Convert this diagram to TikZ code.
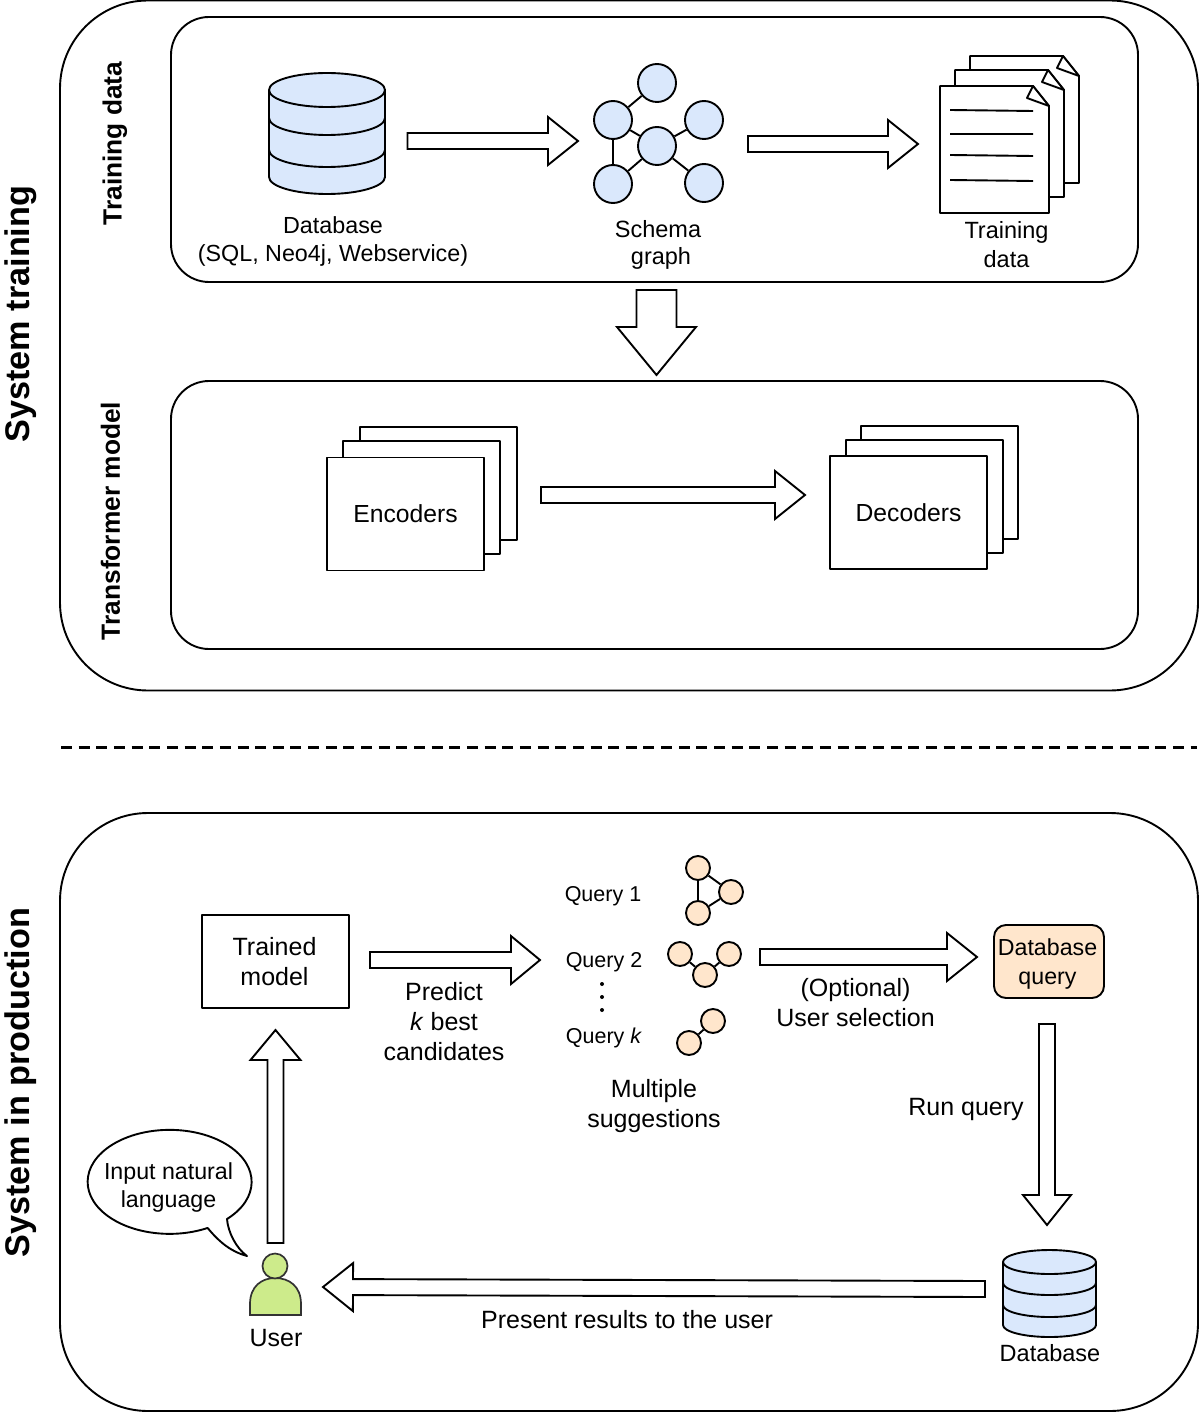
\documentclass[tikz,border=0pt]{standalone}
\usepackage{fontspec}
\setmainfont{Liberation Sans}
\usetikzlibrary{calc}
\definecolor{dbblue}{HTML}{DAE8FC}
\definecolor{qorange}{HTML}{FFE6CC}
\definecolor{ugreen}{HTML}{CDEB8B}
\tikzset{
  x=1pt,y=-1pt,
  line/.style={draw=black,line width=1.9pt,line join=round},
  flow/.style={draw=black,line width=1.9pt,fill=white,line join=miter},
  lbl/.style={inner sep=0pt,align=center,font=\fontsize{23.5}{28.5}\selectfont},
  lbla/.style={inner sep=0pt,align=center,font=\fontsize{23.3}{28.5}\selectfont},
  lblb/.style={inner sep=0pt,align=center,font=\fontsize{25}{30}\selectfont},
  lblc/.style={inner sep=0pt,align=center,font=\fontsize{23.2}{28.5}\selectfont},
  qlbl/.style={inner sep=0pt,font=\fontsize{21.5}{25}\selectfont},
  sec/.style={inner sep=0pt,rotate=90,font=\fontsize{34.2}{40}\selectfont\bfseries},
  sub/.style={inner sep=0pt,rotate=90,font=\fontsize{26.3}{31}\selectfont\bfseries},
  outerbox/.style={line,rounded corners=88pt,inner sep=0pt},
  innerbox/.style={line,rounded corners=38pt,inner sep=0pt},
  sheet/.style={line,fill=white,inner sep=0pt,minimum width=157pt,minimum height=113pt,
     font=\fontsize{24.7}{29}\selectfont},
  gnode/.style={circle,line,fill=dbblue,inner sep=0pt,minimum size=38pt},
  qnode/.style={circle,line,fill=qorange,inner sep=0pt,minimum size=24pt},
}
% from, to, shaft half width, head half width, head length
\newcommand\blockarrow[5]{%
  \draw[flow] ($(#1)!#3!90:(#2)$)
    -- ($(#2)!#5!(#1)!#3!-90:(#1)$)
    -- ($(#2)!#5!(#1)!#4!-90:(#1)$)
    -- (#2)
    -- ($(#2)!#5!(#1)!#4!90:(#1)$)
    -- ($(#2)!#5!(#1)!#3!90:(#1)$)
    -- ($(#1)!#3!-90:(#2)$) -- cycle;}
% cylinder: x-left, x-right, top y of lid, bottom y, y of band 1, y of band 2, ry
\newcommand\dbstack[7]{%
  \pgfmathsetmacro\rxx{(#2-#1)/2}
  \pgfmathsetmacro\ymid{#3+#7}
  \pgfmathsetmacro\ylow{#4-#7}
  \draw[line,fill=dbblue] (#1,\ymid) arc[start angle=180,end angle=0,x radius=\rxx pt,y radius=#7 pt]
     -- (#2,\ylow) arc[start angle=0,end angle=-180,x radius=\rxx pt,y radius=#7 pt] -- cycle;
  \draw[line] (#1,\ymid) arc[start angle=180,end angle=360,x radius=\rxx pt,y radius=#7 pt];
  \draw[line] (#1,#5) arc[start angle=180,end angle=360,x radius=\rxx pt,y radius=#7 pt];
  \draw[line] (#1,#6) arc[start angle=180,end angle=360,x radius=\rxx pt,y radius=#7 pt];}
% page: left, top, right, bottom
\newcommand\docpage[4]{%
  \draw[line,fill=white] (#1,#2) -- (#3-16,#2) -- (#3,#2+20) -- (#3,#4) -- (#1,#4) -- cycle;
  \draw[line,fill=white] (#3-16,#2) -- (#3-22,#2+12) -- (#3,#2+20) -- cycle;}
\begin{document}
\begin{tikzpicture}
\useasboundingbox (0,0) rectangle (1200,1412);
% containers
\node[outerbox,minimum width=1138pt,minimum height=690pt] (train) at (629,345.5) {};
\node[innerbox,minimum width=967pt,minimum height=265pt] (tdata) at (654.5,149.5) {};
\node[innerbox,minimum width=967pt,minimum height=268pt] (tmodel) at (654.5,515) {};
\node[outerbox,minimum width=1138pt,minimum height=598pt] (prod) at (629,1112) {};
% section titles
\node[sec] (secA) at (21,314) {System training};
\node[sec] (secB) at (21,1082.5) {System in production};
\node[sub] (subA) at (115,143.5) {Training data};
\node[sub] (subB) at (110.5,521) {Transformer model};
% dashed separator
\coordinate (dashL) at (61,747);
\coordinate (dashR) at (1197,747);
\draw[line width=3pt,dash pattern=on 11pt off 6.65pt] (dashL) -- (dashR);
% database 1
\dbstack{269}{385}{73}{194}{118}{150}{17}
\node[lbla] (dbl) at (333,241.5) {Database\\(SQL, Neo4j, Webservice)};
% schema graph
\node[gnode] (g1) at (657,83) {};
\node[gnode] (g2) at (613,120) {};
\node[gnode] (g3) at (704,120) {};
\node[gnode] (g4) at (657,146) {};
\node[gnode] (g5) at (613,184) {};
\node[gnode] (g6) at (704,183) {};
\draw[line] (g1)--(g2) (g2)--(g4) (g3)--(g4) (g2)--(g5) (g5)--(g4) (g4)--(g6);
\node[lbl] (gl1) at (658,229) {Schema};
\node[lbl] (gl2) at (661,258) {graph};
% documents
\docpage{970}{56}{1079}{183}
\docpage{955}{70}{1064}{197}
\docpage{940}{86}{1049}{213}
\coordinate (l1a) at (950,110); \coordinate (l1b) at (1033,111);
\coordinate (l2a) at (950,134); \coordinate (l2b) at (1033,134);
\coordinate (l3a) at (950,155); \coordinate (l3b) at (1033,156);
\coordinate (l4a) at (950,180); \coordinate (l4b) at (1033,181);
\draw[line] (l1a)--(l1b) (l2a)--(l2b) (l3a)--(l3b) (l4a)--(l4b);
\node[lbl] (tdl) at (1006.5,244.5) {Training\\data};
% top arrows
\coordinate (a1s) at (407.5,141); \coordinate (a1e) at (578,141);
\blockarrow{a1s}{a1e}{8pt}{24pt}{30pt}
\coordinate (a2s) at (748,144); \coordinate (a2e) at (918,144);
\blockarrow{a2s}{a2e}{8pt}{24pt}{30pt}
\coordinate (a3s) at (656.5,290); \coordinate (a3e) at (656.5,375);
\blockarrow{a3s}{a3e}{20pt}{39.5pt}{48pt}
\coordinate (a4s) at (541,495); \coordinate (a4e) at (805,495);
\blockarrow{a4s}{a4e}{8pt}{24pt}{30pt}
% encoders / decoders
\node[sheet] (e3) at (438.5,483.5) {};
\node[sheet] (e2) at (421.5,497.5) {};
\node[sheet] (e1) at (405.5,514) {Encoders};
\node[sheet] (d3) at (939.5,482.5) {};
\node[sheet] (d2) at (924.5,496.5) {};
\node[sheet] (d1) at (908.5,512.5) {Decoders};
% trained model
\node[line,lblb,fill=white,minimum width=147pt,minimum height=93pt] (tm) at (275.5,961.5) {};
\node[lblb] (tmt) at (274.5,962) {Trained\\model};
\coordinate (b1s) at (370,960); \coordinate (b1e) at (540,960);
\blockarrow{b1s}{b1e}{8pt}{24pt}{29pt}
\node[lblb] (pred) at (444,1022) {Predict\\\textit{k} best\\candidates};
% queries
\node[qlbl] (q1) at (603,896) {Query 1};
\node[qlbl] (q2) at (604,962) {Query 2};
\node[qlbl] (qk) at (604,1038) {Query \textit{k}};
\node[qnode] (a1) at (698,868) {};
\node[qnode] (a2) at (731,892) {};
\node[qnode] (a3) at (698,913) {};
\draw[line] (a1)--(a2) (a2)--(a3) (a3)--(a1);
\node[qnode] (c1) at (680,954) {};
\node[qnode] (c2) at (729,954) {};
\node[qnode] (c3) at (705,975) {};
\draw[line] (c1)--(c3) (c3)--(c2);
\node[qnode] (k1) at (713,1021) {};
\node[qnode] (k2) at (689,1043) {};
\draw[line] (k1)--(k2);
\fill (602,984) circle[radius=2pt] (602,997) circle[radius=2pt] (602,1010) circle[radius=2pt];
\node[lblb] (ms) at (654,1106) {Multiple\\suggestions};
\coordinate (b2s) at (760,957); \coordinate (b2e) at (977,957);
\blockarrow{b2s}{b2e}{8pt}{24pt}{30pt}
\node[lblb] (us) at (855.5,1003) {(Optional)\\User selection};
% database query
\node[line,fill=qorange,rounded corners=12pt,minimum width=110pt,minimum height=73pt] (dq) at (1049,961.5) {};
\node[lblc] (dqt) at (1047.5,964) {Database\\query};
\coordinate (b3s) at (1047,1024); \coordinate (b3e) at (1047,1225);
\blockarrow{b3s}{b3e}{8pt}{24pt}{30pt}
\node[lblb] (rq) at (966,1109) {Run query};
% database 2
\dbstack{1003}{1096}{1250}{1337}{1283}{1305}{12}
\node[lbl] (db2) at (1050,1353) {Database};
\coordinate (b4s) at (985,1289); \coordinate (b4e) at (323,1287);
\blockarrow{b4s}{b4e}{8pt}{24pt}{30pt}
\node[lblb] (pr) at (627,1320) {Present results to the user};
% user
\draw[line width=1.7pt,draw=black!80,fill=ugreen] (250,1315) -- (250,1304) .. controls (250,1286) and (262,1278) .. (275,1278) .. controls (289,1278) and (301,1286) .. (301,1304) -- (301,1315) -- cycle;
\node[circle,line width=1.7pt,draw=black!80,fill=ugreen,inner sep=0pt,minimum size=25pt] (uh) at (275,1266) {};
\node[lblb] (ul) at (276,1338) {User};
\coordinate (b5s) at (275.5,1243); \coordinate (b5e) at (275.5,1030);
\blockarrow{b5s}{b5e}{8pt}{25pt}{30pt}
% speech bubble
\draw[line,fill=white] (227,1219) arc[start angle=-45.6,end angle=297.6,x radius=82pt,y radius=52pt]
  .. controls (220,1243) and (232,1252) .. (247,1256)
  .. controls (236,1248) and (228,1232) .. (227,1219) -- cycle;
\node[lblc] (il) at (168.5,1187.5) {Input natural\\language};
\end{tikzpicture}
\end{document}
